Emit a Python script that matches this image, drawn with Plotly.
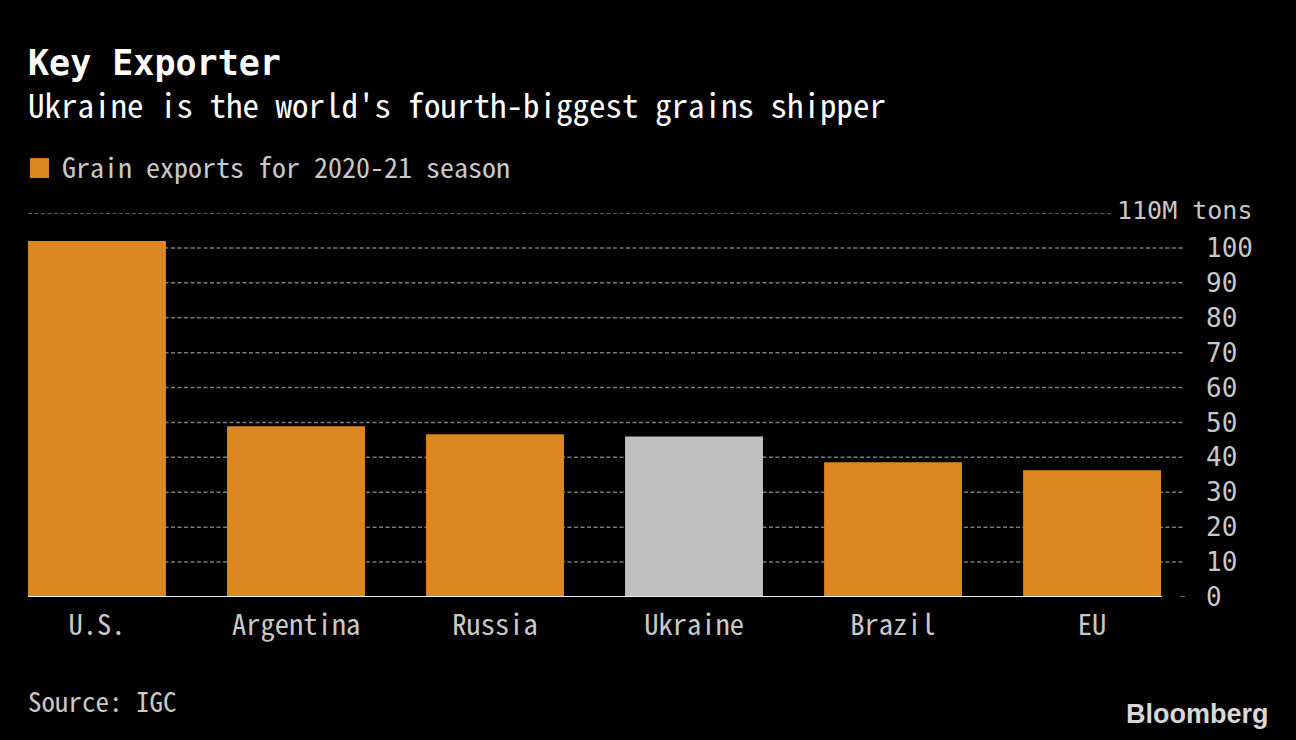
import plotly.graph_objects as go

countries = ["U.S.", "Argentina", "Russia", "Ukraine", "Brazil", "EU"]
exports = [102, 48.9, 46.6, 46, 38.6, 36.3]
bar_colors = ["#dc8722", "#dc8722", "#dc8722", "#bfbfbf", "#dc8722", "#dc8722"]
tick_vals = [0, 10, 20, 30, 40, 50, 60, 70, 80, 90, 100]
tick_text = ["0", "10", "20", "30", "40", "50", "60", "70", "80", "90", "100"]

FONT = "Noto Sans Mono CJK SC, Noto Sans CJK SC, DejaVu Sans Mono"
MONO_FONT = "DejaVu Sans Mono"
TICK_COLOR = "#c8c8c8"
GRID = "#7a7a7a"

W, H = 1296, 740
L, R, T, B = 28, 1185, 213, 597.5

fig = go.Figure()
fig.add_trace(go.Bar(x=list(range(len(countries))), y=exports, marker_color=bar_colors, marker_line_width=0,
                     width=0.693, showlegend=False, hoverinfo="skip"))

fig.update_layout(
    width=W, height=H,
    autosize=False,
    paper_bgcolor="black", plot_bgcolor="black",
    margin=dict(l=L, r=W - R, t=T, b=H - B, pad=0),
    font=dict(family=FONT, color=TICK_COLOR, size=28),
    xaxis=dict(
        range=[-0.3467, 5.467],
        tickmode="array", tickvals=list(range(len(countries))), ticktext=countries,
        showgrid=False, ticks="", showline=False, zeroline=False,
        ticklabelstandoff=8,
        tickfont=dict(size=28.5, color=TICK_COLOR),
    ),
    yaxis=dict(
        range=[0, 110], side="right",
        tickmode="array", tickvals=tick_vals, ticktext=tick_text,
        showgrid=False, zeroline=False, ticks="", showline=False,
        ticklabelstandoff=20,
        tickfont=dict(family=MONO_FONT, size=26, color=TICK_COLOR),
    ),
    showlegend=False,
)

# gridlines as shapes, the top one stops short of its label
px = lambda v: (v - L) / (R - L)
py = lambda v: (B - v) / (B - T)
for v in tick_vals[1:] + [110]:
    fig.add_shape(type="line", layer="below", xref="x domain", yref="y", x0=0, x1=px(1113) if v == 110 else 1,
                  y0=v, y1=v, line=dict(color=GRID, width=1.5, dash="4px,2.5px"))
fig.add_shape(type="line", xref="x domain", yref="y", x0=px(1180), x1=px(1185), y0=0, y1=0,
              line=dict(color=GRID, width=1.5))
fig.add_shape(type="line", xref="x domain", yref="y", x0=0, x1=px(1162), y0=0, y1=0,
              line=dict(color="#f0f0f0", width=2))
fig.add_shape(type="rect", xref="paper", yref="paper", x0=px(30), x1=px(49), y0=py(178), y1=py(158),
              fillcolor="#dc8722", line_width=0)


def note(x, y, text, size, color, bold=False, anchor="left", family=FONT):
    fig.add_annotation(xref="paper", yref="paper", x=px(x), y=py(y), text=f"<b>{text}</b>" if bold else text,
                       xanchor=anchor, yanchor="middle", showarrow=False, align="left",
                       borderpad=0, borderwidth=0,
                       font=dict(family=family, size=size, color=color))


note(28, 63, "Key Exporter", 35, "white", True, family=MONO_FONT)
note(28, 104, "Ukraine is the world's fourth-biggest grains shipper", 33, "white")
note(62, 166, "Grain exports for 2020-21 season", 28, TICK_COLOR)
note(1252, 210, "110M tons", 25, TICK_COLOR, anchor="right", family=MONO_FONT)
note(28, 701.5, "Source: IGC", 27, TICK_COLOR)
note(1269, 715, "Bloomberg", 27, "#d8d8d8", True, "right", "Liberation Sans")

fig.write_html("out.html", config=dict(displayModeBar=False),
               post_script="document.body.style.margin='0';document.body.style.background='black';")
